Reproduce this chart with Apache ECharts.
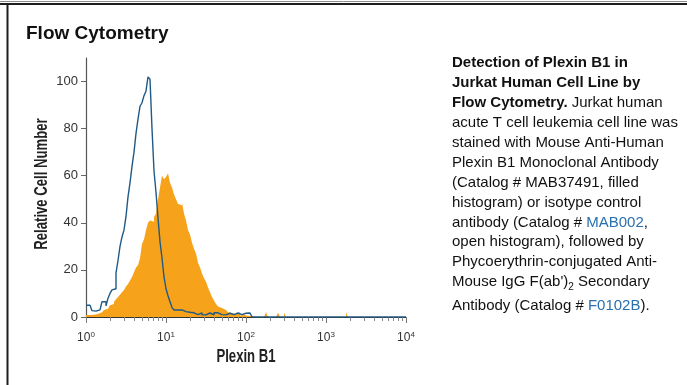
<!DOCTYPE html>
<html>
<head>
<meta charset="utf-8">
<title>Flow Cytometry – Plexin B1</title>
<script src="https://cdn.jsdelivr.net/npm/echarts@6/dist/echarts.min.js"></script>
<style>
  html, body { margin: 0; padding: 0; background: #ffffff; }
  #chart { width: 687px; height: 385px; }
</style>
</head>
<body>
<div id="chart"></div>
<script>
// Histogram channels: 40 log-spaced bins per decade, 10^0 .. 10^4
const binsPerDecade = 40;
const decades = 4;

// Isotype control (open histogram), relative cell number per bin
const isotypeCounts = [
  5, 5, 4.7, 2.7, 2.5, 2.7, 3, 3.8, 6.5, 6.5,
  4.7, 8, 10, 11.5, 12, 18.7, 24, 30, 34, 37,
  42.7, 51, 57, 64, 70, 78, 84, 89.5, 91, 94,
  96, 102, 101, 80, 62, 53, 42, 32, 25, 17,
  12, 9, 6.5, 4, 3, 3, 2.8, 3, 2.5, 2.3,
  2.3, 2, 2.3, 1.8, 1.0, 1.0, 1.8, 1.8, 0.9, 0.9,
  1.7, 1.7, 1.0, 0.9, 1.8, 1.8, 1.0, 1.0, 1.7, 0.9,
  0.9, 1.6, 1.6, 1.0, 1.0, 1.7, 1.0, 1.0, 1.6, 1.6,
  1.7, 1.7, 0.9, 0, 0, 0, 0, 0, 0, 0,
  0, 0, 0, 0, 0, 0, 0, 0, 0, 0,
  0, 0, 0, 0, 0, 0, 0, 0, 0, 0,
  0, 0, 0, 0, 0, 0, 0, 0, 0, 0,
  0, 0, 0, 0, 0, 0, 0, 0, 0, 0,
  0, 0, 0, 0, 0, 0, 0, 0, 0, 0,
  0, 0, 0, 0, 0, 0, 0, 0, 0, 0,
  0, 0, 0, 0, 0, 0, 0, 0, 0, 0
];

// Anti-Plexin B1 stained cells (filled histogram)
const plexinCounts = [
  0.8, 0.8, 1, 1, 1.2, 1.3, 1.5, 2, 2.5, 3,
  3.5, 4, 5, 5.5, 6.5, 7.5, 8.5, 9.5, 10.5, 11.5,
  13, 14, 15.5, 17, 19, 21, 22, 25, 31, 33,
  37, 40, 41, 40.5, 42.5, 44, 50, 55, 60, 58.5,
  59.5, 61, 57, 55, 52, 50, 48, 47.5, 48.5, 44,
  41, 37, 35, 31.5, 29, 27, 23, 21, 18.5, 16.5,
  15, 12.5, 10.5, 8.5, 7, 5.5, 4.5, 3.8, 3.2, 3,
  2.5, 2, 1.7, 1.5, 1.2, 1, 2, 0.6, 0.8, 0.5,
  0.5, 0.4, 0.4, 0, 0, 0, 0, 0, 0, 0,
  2, 0, 0, 0, 0, 0, 1.8, 0, 0, 1.8,
  0, 0, 0, 0, 0, 0, 0, 0, 0, 0,
  0, 0, 0, 0, 0, 0, 0, 0, 0, 0,
  0, 0, 0, 0, 0, 0, 0, 0, 0, 0,
  2, 0, 0, 0, 0, 0, 0, 0, 0, 0,
  0, 0, 0, 0, 0, 0, 0, 0, 0, 0,
  0, 0, 0, 0, 0, 0, 0, 0, 0, 0
];

const yTickValues = [0, 20, 40, 60, 80, 100];
const xMinorTickValues = [];
for (let d = 0; d < decades; d++) {
  for (let k = 2; k <= 9; k++) xMinorTickValues.push(k * Math.pow(10, d));
}

const chartTitle = 'Flow Cytometry';
const xAxisTitle = 'Plexin B1';
const yAxisTitle = 'Relative Cell Number';

// Figure legend, one entry per printed line (rich-text markup)
const legendLines = [
  '{b|Detection of Plexin B1 in}',
  '{b|Jurkat Human Cell Line by}',
  '{b|Flow Cytometry.} Jurkat human',
  'acute T cell leukemia cell line was',
  'stained with Mouse Anti-Human',
  'Plexin B1 Monoclonal Antibody',
  '(Catalog # MAB37491, filled',
  'histogram) or isotype control',
  'antibody (Catalog # {a|MAB002},',
  'open histogram), followed by',
  'Phycoerythrin-conjugated Anti-',
  "Mouse IgG F(ab'){sub|2} Secondary",
  'Antibody (Catalog # {a|F0102B}).'
];
const legendLineY = [63, 83, 103, 123, 143, 163, 183, 203, 223, 242, 262, 282, 306];

// Bin left edges on the intensity scale, plus a closing edge at the top
function toSteps(counts) {
  const pts = counts.map((c, i) => [Math.pow(10, i / binsPerDecade), c]);
  pts.push([Math.pow(10, decades), counts[counts.length - 1]]);
  return pts;
}

const sans = "'Liberation Sans',Arial,sans-serif";

const chart = echarts.init(document.getElementById('chart'), null, { renderer: 'canvas' });

const graphics = [
  // page frame
  { type: 'line', shape: { x1: 0, y1: 1.5, x2: 687, y2: 1.5 }, style: { stroke: '#8c8c8c', lineWidth: 1 }, silent: true },
  { type: 'line', shape: { x1: 0, y1: 4, x2: 687, y2: 4 }, style: { stroke: '#1e1e1e', lineWidth: 2 }, silent: true },
  { type: 'line', shape: { x1: 7.5, y1: 3, x2: 7.5, y2: 385 }, style: { stroke: '#1e1e1e', lineWidth: 2 }, silent: true },
  {
    type: 'text', left: 26, top: 24,
    style: { text: chartTitle, font: 'bold 19px ' + sans, fill: '#111' }
  },
  // axis titles, set in a condensed bold face
  {
    type: 'text', x: 246, y: 357, scaleX: 0.73,
    style: { text: xAxisTitle, font: 'bold 18px ' + sans, fill: '#222', align: 'center', verticalAlign: 'middle' }
  },
  {
    type: 'text', x: 42, y: 184, rotation: Math.PI / 2, scaleX: 0.73,
    style: { text: yAxisTitle, font: 'bold 18px ' + sans, fill: '#222', align: 'center', verticalAlign: 'middle' }
  }
];
legendLines.forEach((line, i) => {
  graphics.push({
    type: 'text',
    x: 452, y: legendLineY[i],
    style: {
      text: line,
      font: '15px ' + sans,
      fill: '#111',
      verticalAlign: 'middle',
      lineHeight: 20,
      rich: {
        b: { font: 'bold 15px ' + sans, fill: '#111', lineHeight: 20 },
        a: { font: '15px ' + sans, fill: '#2a6fb0', lineHeight: 20 },
        sub: { font: '10px ' + sans, fill: '#111', lineHeight: 10, verticalAlign: 'bottom' }
      }
    }
  });
});

chart.setOption({
  animation: false,
  backgroundColor: '#ffffff',
  grid: { left: 86, right: 281, top: 58, bottom: 68 },
  xAxis: [
    {
      type: 'log', logBase: 10, min: 1, max: 10000,
      axisLine: { show: true, lineStyle: { color: '#333', width: 1.2 } },
      axisTick: { show: true, length: 6, lineStyle: { color: '#777' } },
      splitLine: { show: false },
      minorTick: { show: false },
      axisLabel: {
        margin: 14,
        formatter: v => '{m|10}{e|' + Math.round(Math.log10(v)) + '}',
        rich: {
          m: { fontFamily: sans, fontSize: 12, color: '#333', lineHeight: 14 },
          e: { fontFamily: sans, fontSize: 8, color: '#333', lineHeight: 8, verticalAlign: 'top' }
        }
      }
    },
    {
      type: 'log', logBase: 10, min: 1, max: 10000,
      position: 'bottom',
      axisLine: { show: false },
      axisLabel: { show: false },
      splitLine: { show: false },
      axisTick: { show: true, length: 4, customValues: xMinorTickValues, lineStyle: { color: '#888' } }
    }
  ],
  yAxis: {
    type: 'value', min: 0, max: 110,
    axisLine: { show: true, lineStyle: { color: '#555', width: 1.2 } },
    axisTick: { show: true, length: 5, customValues: yTickValues, lineStyle: { color: '#666' } },
    axisLabel: { customValues: yTickValues, margin: 8, fontFamily: sans, fontSize: 13, color: '#333' },
    splitLine: { show: false }
  },
  series: [
    {
      name: 'Plexin B1',
      type: 'line', step: 'end', symbol: 'none',
      xAxisIndex: 0,
      lineStyle: { width: 0 },
      areaStyle: { color: '#f7a21b', opacity: 1 },
      data: toSteps(plexinCounts),
      z: 2
    },
    {
      name: 'Isotype control',
      type: 'line', step: 'end', symbol: 'none',
      xAxisIndex: 0,
      lineStyle: { color: '#1f5a87', width: 1.4 },
      data: toSteps(isotypeCounts),
      z: 3
    }
  ],
  graphic: graphics
});
</script>
</body>
</html>
